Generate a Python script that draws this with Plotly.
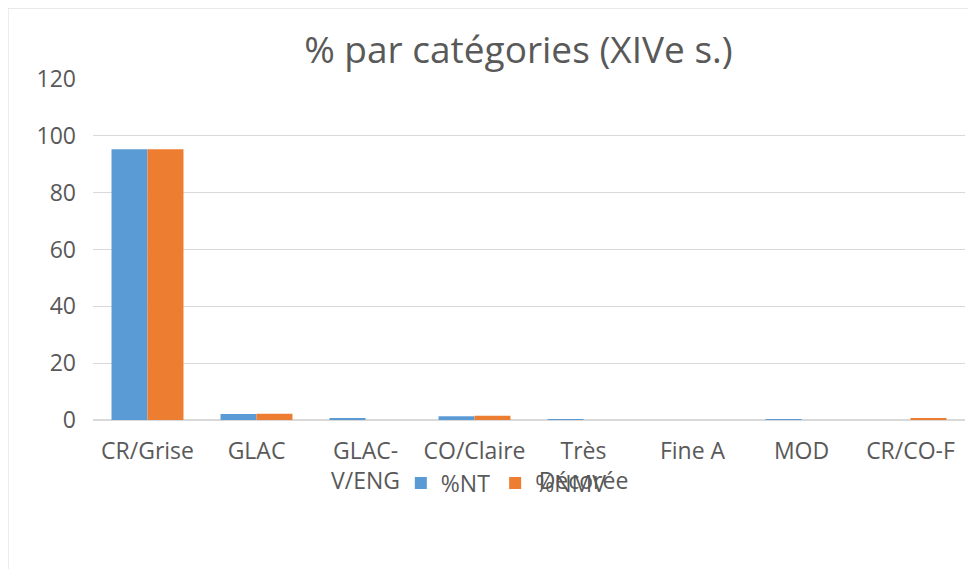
import plotly.graph_objects as go

categories = ["CR/Grise", "GLAC", "GLAC-<br>V/ENG", "CO/Claire", "Très<br>Décorée", "Fine A", "MOD", "CR/CO-F"]
pct_nt = [95.3, 2.1, 0.6, 1.3, 0.2, 0.0, 0.1, 0.0]
pct_nmv = [95.3, 2.2, 0.0, 1.5, 0.0, 0.0, 0.0, 0.5]
y_ticks = [0, 20, 40, 60, 80, 100, 120]

FONT = "Open Sans"
fig = go.Figure()
fig.add_bar(x=categories, y=pct_nt, name="%NT", marker=dict(color="#5B9BD5", line=dict(width=0)))
fig.add_bar(x=categories, y=pct_nmv, name="%NMV", marker=dict(color="#ED7D31", line=dict(width=0)))

fig.update_layout(
    width=976, height=569,
    margin=dict(l=85, r=19, t=71, b=157, autoexpand=False),
    paper_bgcolor="white", plot_bgcolor="white",
    barmode="group", bargap=0.34, bargroupgap=0,
    title=dict(text="% par catégories (XIVe s.)", x=0.523, xanchor="center", y=0.926, yanchor="middle",
               font=dict(family=FONT, size=37, color="#595959")),
    font=dict(family=FONT, size=23, color="#595959"),
    xaxis=dict(showgrid=False, showline=True, linecolor="#d9d9d9", linewidth=1, automargin=False,
               ticks="", tickfont=dict(size=23, color="#595959"), ticklabelstandoff=10),
    yaxis=dict(range=[0, 120], tickvals=y_ticks, showgrid=True, gridcolor="#d9d9d9", gridwidth=1,
               zeroline=True, zerolinecolor="#d9d9d9", showline=False, automargin=False,
               tickfont=dict(size=23, color="#595959"), ticklabelstandoff=16),
    legend=dict(orientation="h", x=0.474, xanchor="center", yref="container", y=0.165, yanchor="middle",
                font=dict(size=23, color="#595959"), bgcolor="rgba(0,0,0,0)",
                itemwidth=30, traceorder="normal"),
    showlegend=True,
    shapes=[dict(type="rect", xref="paper", yref="paper", x0=-0.0975, x1=1.0115, y0=-0.5, y1=1.208,
                 line=dict(color="#d9d9d9", width=1), fillcolor="rgba(0,0,0,0)", layer="below")],
)
fig.write_html("out.html")
